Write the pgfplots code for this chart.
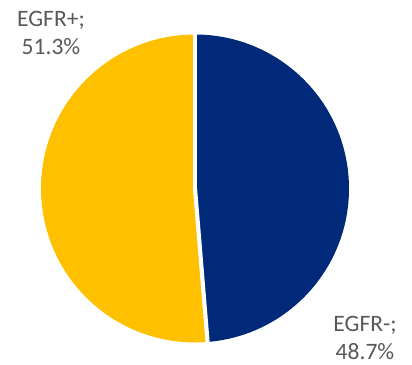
\documentclass[border=0pt]{standalone}
\usepackage{pgfplots}
\pgfplotsset{compat=1.18}
\usepackage{pgfplotstable}
\usepackage{fontspec}
\setmainfont{Carlito}
\definecolor{navy}{RGB}{0,41,122}
\definecolor{gold}{RGB}{255,192,0}
\definecolor{lbl}{RGB}{89,89,89}
\pgfplotstableread{
label value
EGFR+ 51.3
EGFR- 48.7
}\piedata
\begin{document}
\begin{tikzpicture}
\pgfplotstablegetelem{0}{value}\of\piedata \let\vA\pgfplotsretval
\pgfplotstablegetelem{1}{value}\of\piedata \let\vB\pgfplotsretval
\pgfmathsetmacro{\aEnd}{90+3.6*\vA}
\pgfmathsetmacro{\bEnd}{\aEnd+3.6*\vB}
\begin{axis}[
  scale only axis, width=4.12in, height=3.64in,
  xmin=0, xmax=412, ymin=0, ymax=364,
  hide axis, clip=false,
]
\path (axis cs:0,0) rectangle (axis cs:412,364);
\fill[gold] (axis cs:195,175.5) -- ++(90:1.54in) arc[start angle=90, end angle=\aEnd, radius=1.54in] -- cycle;
\fill[navy] (axis cs:195,175.5) -- ++(\aEnd:1.54in) arc[start angle=\aEnd, end angle=\bEnd, radius=1.54in] -- cycle;
\draw[white, line width=3pt] (axis cs:195,175.5) -- ++(90:1.6in);
\draw[white, line width=3pt] (axis cs:195,175.5) -- ++(\aEnd:1.6in);
\node[lbl, align=center, font=\fontsize{17}{20}\selectfont] at (axis cs:51,331) {EGFR+;\\51.3\%};
\node[lbl, align=center, font=\fontsize{17}{20}\selectfont] at (axis cs:365,26) {EGFR-;\\48.7\%};
\end{axis}
\end{tikzpicture}
\end{document}
